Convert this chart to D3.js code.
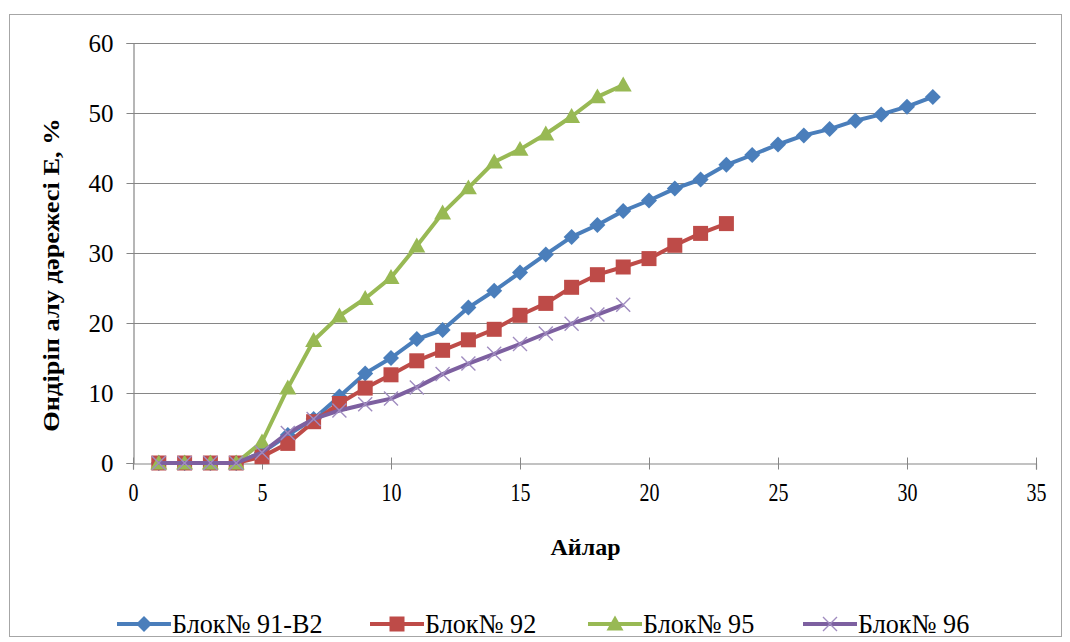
<!DOCTYPE html>
<html>
<head>
<meta charset="utf-8">
<script src="https://cdn.jsdelivr.net/npm/d3@7"></script>
<style>
  html, body { margin: 0; padding: 0; background: #fff; }
</style>
</head>
<body>
<svg id="chart" width="1070" height="642"></svg>
<script>
// Months since start of production
const months91 = d3.range(1, 32);
const months92 = d3.range(1, 24);
const months95 = d3.range(1, 20);
const months96 = d3.range(1, 20);

// Recovery factor E, %
const block91 = [0, 0, 0, 0, 1.5, 4.0, 6.3, 9.5, 12.8, 15.0, 17.7, 19.0, 22.2, 24.6, 27.2, 29.8, 32.3, 34.0, 36.0, 37.5, 39.2, 40.5, 42.6, 44.0, 45.5, 46.8, 47.7, 48.9, 49.8, 50.9, 52.3];
const block92 = [0, 0, 0, 0, 0.9, 2.8, 5.9, 8.5, 10.7, 12.6, 14.6, 16.1, 17.6, 19.1, 21.1, 22.8, 25.1, 26.9, 28.0, 29.2, 31.1, 32.8, 34.2];
const block95 = [0, 0, 0, 0, 3.0, 10.7, 17.5, 21.0, 23.5, 26.5, 31.0, 35.7, 39.3, 43.0, 44.8, 47.0, 49.5, 52.3, 54.0];
const block96 = [0, 0, 0, 0, 1.5, 4.3, 6.3, 7.5, 8.4, 9.2, 10.8, 12.7, 14.2, 15.6, 17.0, 18.5, 19.9, 21.2, 22.6];

const seriesNames = ["Блок№ 91-В2", "Блок№ 92", "Блок№ 95", "Блок№ 96"];
const xTicks = [0, 5, 10, 15, 20, 25, 30, 35];
const yTicks = [0, 10, 20, 30, 40, 50, 60];
const xTitle = "Айлар";
const yTitle = "Өндіріп алу дәрежесі Е, %";

const FONT = "'Times New Roman', 'Liberation Serif', serif";

const series = [
  { name: seriesNames[0], x: months91, y: block91, color: "#4A7EBB", marker: "diamond" },
  { name: seriesNames[1], x: months92, y: block92, color: "#BE4B48", marker: "square" },
  { name: seriesNames[2], x: months95, y: block95, color: "#98B954", marker: "triangle" },
  { name: seriesNames[3], x: months96, y: block96, color: "#7D60A0", marker: "cross" }
];

const svg = d3.select("#chart");

// chart frame
svg.append("rect")
  .attr("x", 9.5).attr("y", 14.5).attr("width", 1052).attr("height", 622)
  .attr("fill", "#fff").attr("stroke", "#A6A6A6").attr("stroke-width", 1);

const plot = { left: 133, right: 1036, top: 43, bottom: 463 };

const x = d3.scaleLinear().domain([0, 35]).range([plot.left, plot.right]);
const y = d3.scaleLinear().domain([0, 60]).range([plot.bottom, plot.top]);

// horizontal gridlines
svg.append("g")
  .selectAll("line")
  .data(yTicks.filter(d => d > 0))
  .join("line")
  .attr("x1", plot.left).attr("x2", plot.right)
  .attr("y1", d => Math.round(y(d)) + 0.5).attr("y2", d => Math.round(y(d)) + 0.5)
  .attr("stroke", "#868686").attr("stroke-width", 1.2);

// y axis
const yAxis = svg.append("g")
  .attr("transform", `translate(${plot.left + 0.5},0)`)
  .call(d3.axisLeft(y).tickValues(yTicks).tickSize(7).tickPadding(13));
yAxis.attr("font-family", null).attr("font-size", null);
yAxis.select(".domain").attr("stroke", "#868686").attr("stroke-width", 1.2);
yAxis.selectAll(".tick line").attr("stroke", "#868686");
yAxis.selectAll(".tick text")
  .style("font-family", FONT)
  .style("font-size", "25px").attr("fill", "#000");

// x axis
const xAxis = svg.append("g")
  .attr("transform", `translate(0,${plot.bottom + 0.5})`)
  .call(d3.axisBottom(x).tickValues(xTicks).tickSize(6).tickPadding(14));
xAxis.attr("font-family", null).attr("font-size", null);
xAxis.select(".domain").attr("stroke", "#868686").attr("stroke-width", 1.2);
xAxis.selectAll(".tick line").attr("stroke", "#868686").attr("y1", -6);
xAxis.selectAll(".tick text")
  .style("font-family", FONT)
  .style("font-size", "25px").attr("fill", "#000")
  .attr("transform", "scale(0.8,1)");

// axis titles
svg.append("text")
  .attr("x", (plot.left + plot.right) / 2 + 1)
  .attr("y", 555)
  .attr("text-anchor", "middle")
  .style("font-family", FONT)
  .style("font-size", "24px").style("font-weight", "bold")
  .text(xTitle);

svg.append("text")
  .attr("transform", `translate(59,${(plot.top + plot.bottom) / 2 + 22}) scale(1,1.1) rotate(-90)`)
  .attr("text-anchor", "middle")
  .style("font-family", FONT)
  .style("font-size", "24px").style("font-weight", "bold")
  .text(yTitle);

// marker shapes
function drawMarker(g, type, color, cx, cy, scale) {
  const s = scale || 1;
  if (type === "diamond") {
    const r = 8 * s;
    g.append("path")
      .attr("d", `M${cx},${cy - r}L${cx + r},${cy}L${cx},${cy + r}L${cx - r},${cy}Z`)
      .attr("fill", color);
  } else if (type === "square") {
    const h = 7.5 * s;
    g.append("rect")
      .attr("x", cx - h).attr("y", cy - h).attr("width", 2 * h).attr("height", 2 * h)
      .attr("fill", color);
  } else if (type === "triangle") {
    const r = 8.5 * s;
    g.append("path")
      .attr("d", `M${cx},${cy - r}L${cx + r},${cy + r * 0.75}L${cx - r},${cy + r * 0.75}Z`)
      .attr("fill", color);
  } else if (type === "cross") {
    const r = 7 * s;
    g.append("path")
      .attr("d", `M${cx - r},${cy - r}L${cx + r},${cy + r}M${cx - r},${cy + r}L${cx + r},${cy - r}`)
      .attr("stroke", "#A08CC0").attr("stroke-width", 1.4).attr("fill", "none");
  }
}

const line = d3.line().x(d => x(d[0])).y(d => y(d[1]));

series.forEach(s => {
  const pts = s.x.map((m, i) => [m, s.y[i]]);
  const g = svg.append("g");
  g.append("path")
    .datum(pts)
    .attr("d", line)
    .attr("fill", "none")
    .attr("stroke", s.color)
    .attr("stroke-width", 4)
    .attr("stroke-linejoin", "round");
  pts.forEach(p => drawMarker(g, s.marker, s.color, x(p[0]), y(p[1])));
});

// legend
const legendY = 624;
const legendX = [117, 370, 588, 803];
series.forEach((s, i) => {
  const g = svg.append("g");
  const x0 = legendX[i];
  g.append("line")
    .attr("x1", x0).attr("x2", x0 + 54)
    .attr("y1", legendY).attr("y2", legendY)
    .attr("stroke", s.color).attr("stroke-width", 4);
  drawMarker(g, s.marker, s.color, x0 + 27, legendY, 1);
  g.append("text")
    .attr("transform", `translate(${x0 + 55},${legendY + 9}) scale(0.97,1)`)
    .style("font-family", FONT)
    .style("font-size", "27px")
    .text(s.name);
});
</script>
</body>
</html>
